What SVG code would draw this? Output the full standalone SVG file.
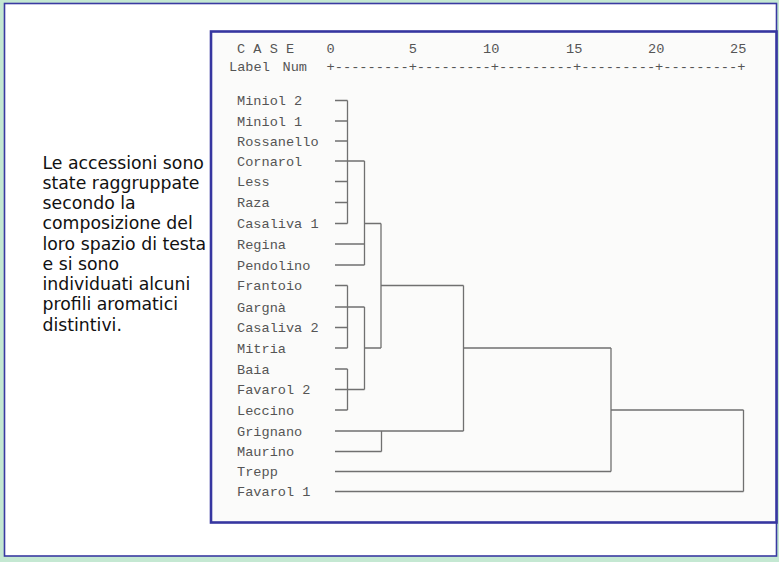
<svg xmlns="http://www.w3.org/2000/svg" width="779" height="562" viewBox="0 0 779 562">
<style>
.lbl{font-family:"Liberation Mono","DejaVu Sans Mono",monospace;font-size:13.6px;fill:#555}
.side{font-family:"DejaVu Sans","Verdana",sans-serif;font-size:17.3px;fill:#111}
.ln{fill:none;stroke:#707070;stroke-width:1.3}
</style>
<rect x="0" y="0" width="779" height="562" fill="#c4e8d2"/>
<rect x="4.5" y="3.5" width="772" height="552.5" fill="#ffffff" stroke="#3a3aa2" stroke-width="1.6"/>
<g id="side-text">
<text class="side" x="42.5" y="168.5">Le accessioni sono</text>
<text class="side" x="42.5" y="188.8">state raggruppate</text>
<text class="side" x="42.5" y="209">secondo la</text>
<text class="side" x="42.5" y="229.3">composizione del</text>
<text class="side" x="42.5" y="249.6">loro spazio di testa</text>
<text class="side" x="42.5" y="269.9">e si sono</text>
<text class="side" x="42.5" y="290.1">individuati alcuni</text>
<text class="side" x="42.5" y="310.4">profili aromatici</text>
<text class="side" x="42.5" y="330.6">distintivi.</text>
</g>
<rect x="211" y="31.5" width="565.5" height="491" fill="#fbfbfa" stroke="#3636a0" stroke-width="2.6"/>
<g id="header">
<text class="lbl" x="237" y="53">C A S E</text>
<text class="lbl" x="326.5" y="53">0</text>
<text class="lbl" x="408.8" y="53">5</text>
<text class="lbl" x="483" y="53">10</text>
<text class="lbl" x="566" y="53">15</text>
<text class="lbl" x="648" y="53">20</text>
<text class="lbl" x="730" y="53">25</text>
<text class="lbl" x="229" y="70.5">Label</text>
<text class="lbl" x="282.5" y="70.5">Num</text>
<text class="lbl" x="326.5" y="70.5" textLength="419" lengthAdjust="spacingAndGlyphs">+---------+---------+---------+---------+---------+</text>
</g>
<g id="leaf-miniol2"><text class="lbl" x="237" y="105">Miniol 2</text></g>
<g id="leaf-miniol1"><text class="lbl" x="237" y="125.5">Miniol 1</text></g>
<g id="leaf-rossanello"><text class="lbl" x="237" y="145.5">Rossanello</text></g>
<g id="leaf-cornarol"><text class="lbl" x="237" y="165.5">Cornarol</text></g>
<g id="leaf-less"><text class="lbl" x="237" y="186">Less</text></g>
<g id="leaf-raza"><text class="lbl" x="237" y="207">Raza</text></g>
<g id="leaf-casaliva1"><text class="lbl" x="237" y="228">Casaliva 1</text></g>
<g id="leaf-regina"><text class="lbl" x="237" y="248.5">Regina</text></g>
<g id="leaf-pendolino"><text class="lbl" x="237" y="269.5">Pendolino</text></g>
<g id="leaf-frantoio"><text class="lbl" x="237" y="290">Frantoio</text></g>
<g id="leaf-gargna"><text class="lbl" x="237" y="311.5">Gargnà</text></g>
<g id="leaf-casaliva2"><text class="lbl" x="237" y="332">Casaliva 2</text></g>
<g id="leaf-mitria"><text class="lbl" x="237" y="352.5">Mitria</text></g>
<g id="leaf-baia"><text class="lbl" x="237" y="373.5">Baia</text></g>
<g id="leaf-favarol2"><text class="lbl" x="237" y="394">Favarol 2</text></g>
<g id="leaf-leccino"><text class="lbl" x="237" y="414.5">Leccino</text></g>
<g id="leaf-grignano"><text class="lbl" x="237" y="435.5">Grignano</text></g>
<g id="leaf-maurino"><text class="lbl" x="237" y="456">Maurino</text></g>
<g id="leaf-trepp"><text class="lbl" x="237" y="476">Trepp</text></g>
<g id="leaf-favarol1"><text class="lbl" x="237" y="496">Favarol 1</text></g>
<g id="connectors">
<path class="ln" d="M335 100.5H347.5M335 121H347.5M335 141H347.5M335 161H364.5M335 181.5H347.5M335 202.5H347.5M335 223.5H347.5M347.5 100.5V223.5"/>
<path class="ln" d="M335 244H364.5M335 265H364.5M364.5 161V265M364.5 223.5H381"/>
<path class="ln" d="M335 285.5H347.5M335 307H364.5M335 327.5H347.5M335 348H347.5M347.5 285.5V348"/>
<path class="ln" d="M335 369H347.5M335 389.5H364.5M335 410H347.5M347.5 369V410"/>
<path class="ln" d="M364.5 307V389.5M364.5 348H381M381 223.5V348M381 285.5H463.5"/>
<path class="ln" d="M335 431H463.5M335 451.5H381.5M381.5 431V451.5M463.5 285.5V431"/>
<path class="ln" d="M463.5 348H611M335 471.5H611M611 348V471.5"/>
<path class="ln" d="M611 410H743.5M335 491.5H743.5M743.5 410V491.5"/>
</g>
</svg>
